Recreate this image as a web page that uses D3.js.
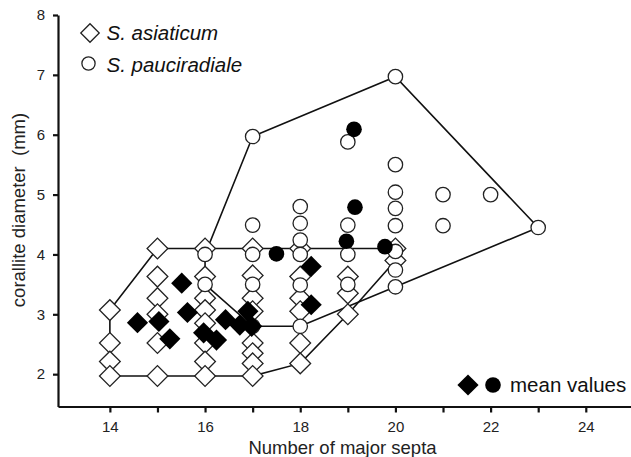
<!DOCTYPE html>
<html>
<head>
<meta charset="utf-8">
<script src="https://cdn.jsdelivr.net/npm/d3@7"></script>
<style>
  body { margin: 0; background: #fff; }
  svg { display: block; font-family: "Liberation Sans", Arial, Helvetica, sans-serif; }
</style>
</head>
<body>
<div id="chart" style="width:631px;height:457px"></div>
<script>
// S. asiaticum - individual specimens (open diamonds)
const asiaticumX = [14,14,14,14, 15,15,15,15,15,15, 16,16,16,16,16,16,16,16,
                    17,17,17,17,17,17,17,17, 18,18,18,18,18,18, 19,19,19, 20,20];
const asiaticumY = [3.07,2.52,2.21,1.97, 4.10,3.63,3.27,3.00,2.52,1.97,
                    4.10,3.63,3.27,3.07,2.85,2.52,2.21,1.97,
                    4.10,3.65,3.27,3.05,2.52,2.35,2.18,1.97,
                    4.10,3.63,3.27,3.05,2.52,2.18, 3.63,3.35,3.00, 4.10,3.90];

// S. pauciradiale - individual specimens (open circles)
const pauciX = [16,16, 17,17,17,17,17, 18,18,18,18,18,18, 19,19,19,19,
                20,20,20,20,20,20,20,20, 21,21, 22, 23];
const pauciY = [4.00,3.50, 5.97,4.49,4.00,3.50,2.80, 4.80,4.52,4.24,4.00,3.49,2.80,
                5.88,4.49,4.00,3.50, 6.97,5.50,5.04,4.77,4.48,4.05,3.74,3.46,
                5.00,4.48, 5.00, 4.45];

// mean values
const meanAsiaticumX = [14.58,15.03,15.26,15.51,15.63,15.97,16.24,16.43,16.73,16.90,16.98,18.23,18.23];
const meanAsiaticumY = [2.86,2.88,2.59,3.52,3.03,2.69,2.57,2.91,2.82,3.05,2.80,3.80,3.16];
const meanPauciX = [17.50,19.13,18.97,19.15,19.78];
const meanPauciY = [4.01,6.09,4.22,4.79,4.13];

const xTicks = [14,15,16,17,18,19,20,21,22,23,24];
const yTicks = [2,3,4,5,6,7,8];

function zip(xs, ys){ return xs.map((v, i) => [v, ys[i]]); }

function drawChart(container){
    const width = 631, height = 457,
          margin = {top: 15, right: 0, bottom: 50.5, left: 58},
          innerWidth = width - margin.left - margin.right,
          innerHeight = height - margin.top - margin.bottom;

    const svg = d3.select(container).append('svg')
        .attr('width', width)
        .attr('height', height);

    const viz = svg.append('g')
        .attr('transform', `translate(${margin.left},${margin.top})`);

    const x = d3.scaleLinear().domain([12.91, 24.95]).range([0, innerWidth]);
    const y = d3.scaleLinear().domain([1.46, 8]).range([innerHeight, 0]);

    // axes
    const xAxis = viz.append('g')
        .attr('transform', `translate(0,${innerHeight})`)
        .call(d3.axisBottom(x).tickValues(xTicks)
            .tickFormat(d => d % 2 === 0 ? d : '')
            .tickSize(6).tickSizeOuter(0).tickPadding(9));
    const yAxis = viz.append('g')
        .call(d3.axisLeft(y).tickValues(yTicks)
            .tickFormat(d3.format('d'))
            .tickSize(5).tickSizeOuter(0).tickPadding(8));

    [xAxis, yAxis].forEach(a => {
        a.attr('font-size', 15).attr('font-family', '"Liberation Sans", Arial, sans-serif');
        a.select('.domain').attr('stroke', '#111').attr('stroke-width', 2.2);
        a.selectAll('.tick line').attr('stroke', '#111').attr('stroke-width', 2.2);
        a.selectAll('.tick text').attr('fill', '#222');
    });

    viz.append('text')
        .attr('x', innerWidth / 2 - 2)
        .attr('y', innerHeight + 47)
        .attr('text-anchor', 'middle')
        .attr('fill', '#222')
        .style('font-size', '18.5px')
        .text('Number of major septa');

    svg.append('text')
        .attr('transform', 'translate(25,210) rotate(-90)')
        .attr('text-anchor', 'middle')
        .attr('fill', '#222')
        .style('font-size', '18.5px')
        .text('corallite diameter\u00a0 (mm)');

    const asiaticum = zip(asiaticumX, asiaticumY);
    const pauci = zip(pauciX, pauciY);

    // envelopes (convex hulls) of each species
    const hullLine = pts => 'M' + d3.polygonHull(pts.map(d => [x(d[0]), y(d[1])])).join('L') + 'Z';
    const hulls = viz.append('g').classed('hulls', true);
    [asiaticum, pauci].forEach(pts => {
        hulls.append('path')
            .attr('d', hullLine(pts))
            .attr('fill', 'none')
            .attr('stroke', '#111')
            .attr('stroke-width', 1.6);
    });

    const diamond = d3.symbol().type(d3.symbolSquare).size(215);

    viz.append('g').selectAll('path')
        .data(asiaticum)
        .enter().append('path')
            .attr('d', diamond)
            .attr('transform', d => `translate(${x(d[0])},${y(d[1])}) rotate(45)`)
            .attr('fill', '#fff')
            .attr('stroke', '#222')
            .attr('stroke-width', 1.3);

    viz.append('g').selectAll('circle')
        .data(pauci)
        .enter().append('circle')
            .attr('cx', d => x(d[0]))
            .attr('cy', d => y(d[1]))
            .attr('r', 7.2)
            .attr('fill', '#fff')
            .attr('stroke', '#222')
            .attr('stroke-width', 1.3);

    viz.append('g').selectAll('path')
        .data(zip(meanAsiaticumX, meanAsiaticumY))
        .enter().append('path')
            .attr('d', d3.symbol().type(d3.symbolSquare).size(225))
            .attr('transform', d => `translate(${x(d[0])},${y(d[1])}) rotate(45)`)
            .attr('fill', '#000');

    viz.append('g').selectAll('circle')
        .data(zip(meanPauciX, meanPauciY))
        .enter().append('circle')
            .attr('cx', d => x(d[0]))
            .attr('cy', d => y(d[1]))
            .attr('r', 7.8)
            .attr('fill', '#000');

    // legend
    const legend = svg.append('g').classed('legend', true);
    legend.append('path')
        .attr('d', d3.symbol().type(d3.symbolSquare).size(170))
        .attr('transform', 'translate(90,33) rotate(45)')
        .attr('fill', '#fff').attr('stroke', '#222').attr('stroke-width', 1.3);
    legend.append('circle')
        .attr('cx', 88.5).attr('cy', 63.5).attr('r', 6.6)
        .attr('fill', '#fff').attr('stroke', '#222').attr('stroke-width', 1.3);
    legend.append('text')
        .attr('x', 106.5).attr('y', 40)
        .attr('fill', '#111').style('font-size', '20.5px').style('font-style', 'italic')
        .text('S. asiaticum');
    legend.append('text')
        .attr('x', 106.5).attr('y', 71.5)
        .attr('fill', '#111').style('font-size', '20.5px').style('font-style', 'italic')
        .text('S. pauciradiale');

    legend.append('path')
        .attr('d', d3.symbol().type(d3.symbolSquare).size(225))
        .attr('transform', 'translate(468,385) rotate(45)')
        .attr('fill', '#000');
    legend.append('circle')
        .attr('cx', 493).attr('cy', 385).attr('r', 7.8)
        .attr('fill', '#000');
    legend.append('text')
        .attr('x', 510).attr('y', 392)
        .attr('fill', '#111').style('font-size', '20.5px')
        .text('mean values');
}

drawChart('#chart');
</script>
</body>
</html>
